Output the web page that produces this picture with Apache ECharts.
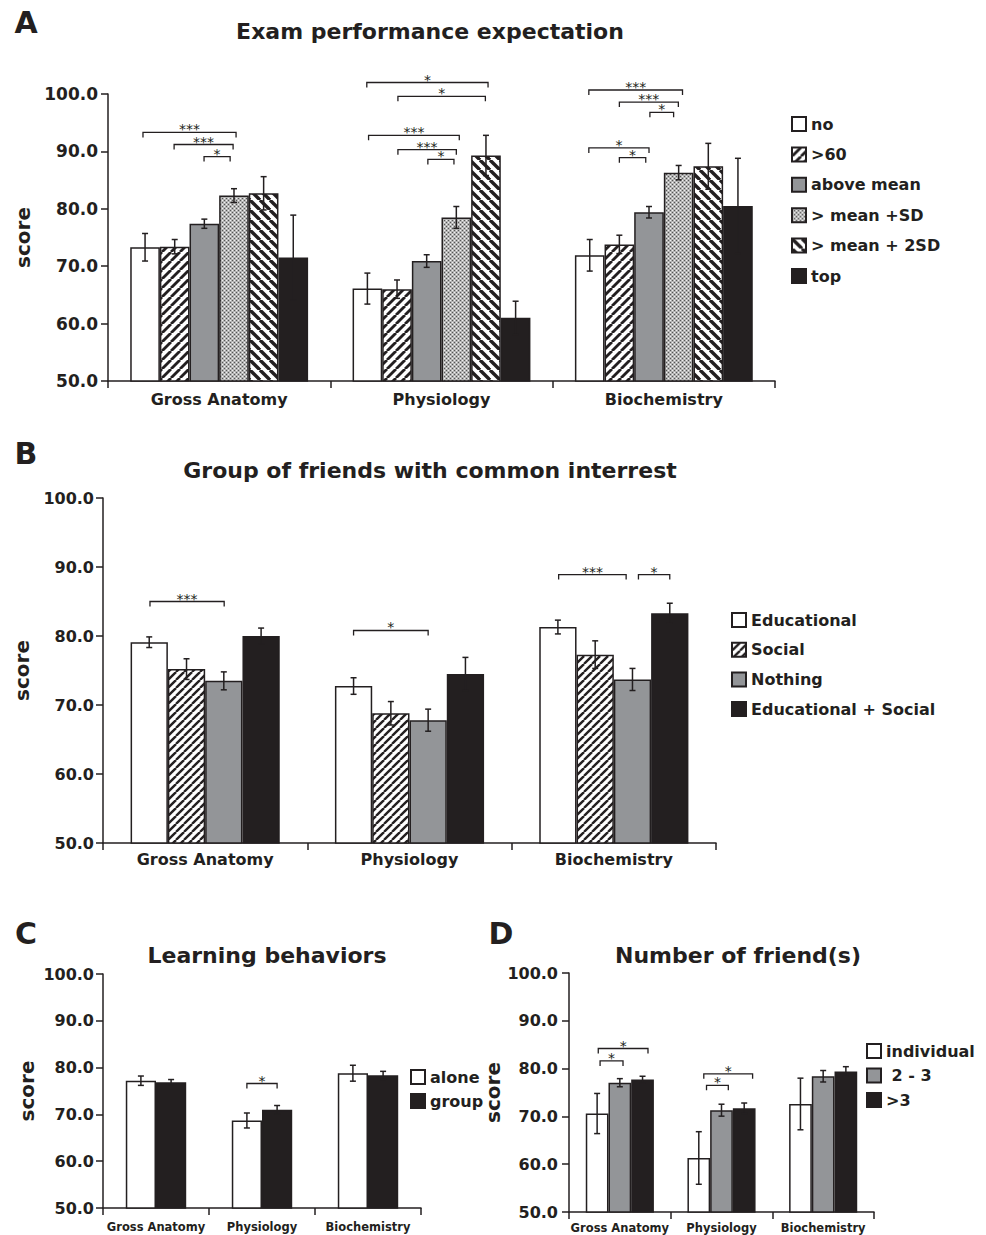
<!DOCTYPE html>
<html><head><meta charset="utf-8">
<script src="https://cdn.jsdelivr.net/npm/echarts@6/dist/echarts.min.js"></script>
<style>html,body{margin:0;padding:0;background:#fff}#c{width:986px;height:1235px}</style>
</head><body><div id="c"></div>
<script>
// ---------------- DATA ----------------
const categories = ['Gross Anatomy', 'Physiology', 'Biochemistry'];
const yMin = 50, yMax = 100, yStep = 10;

// Panel A: Exam performance expectation
const aNames = ['no', '>60', 'above mean', '> mean +SD', '> mean + 2SD', 'top'];
const aValues = [[73.3, 66.1, 71.9], [73.4, 66.0, 73.8], [77.4, 70.9, 79.4], [82.3, 78.5, 86.3], [82.7, 89.3, 87.4], [71.5, 61.0, 80.5]];
const aErrors = [[2.4, 2.7, 2.75], [1.25, 1.6, 1.6], [0.8, 1.1, 1.0], [1.2, 1.9, 1.25], [2.9, 3.5, 4.0], [7.4, 2.9, 8.3]];
// [category, from bar, to bar, height, label]
const aBrackets = [
  [0, -0.07, 3.07, 93.3, '***'], [0, 0.98, 2.97, 91.2, '***'], [0, 1.99, 2.87, 89.1, '*'],
  [1, -0.02, 4.07, 102.0, '*'], [1, 1.03, 3.98, 99.6, '*'], [1, 0.04, 3.1, 92.8, '***'], [1, 1.03, 3.0, 90.3, '***'], [1, 2.04, 2.92, 88.6, '*'],
  [2, -0.03, 3.13, 100.7, '***'], [2, 1.0, 2.99, 98.6, '***'], [2, 2.03, 2.83, 96.8, '*'], [2, -0.03, 2.0, 90.6, '*'], [2, 1.0, 1.89, 88.9, '*']
];

// Panel B: Group of friends with common interrest
const bNames = ['Educational', 'Social', 'Nothing', 'Educational + Social'];
const bValues = [[79.1, 72.75, 81.3], [75.2, 68.8, 77.3], [73.5, 67.8, 73.7], [80.0, 74.5, 83.3]];
const bErrors = [[0.77, 1.2, 1.0], [1.5, 1.7, 2.0], [1.3, 1.6, 1.6], [1.15, 2.4, 1.45]];
const bBrackets = [[0, 0.02, 2.01, 85.0, '***'], [1, 0.0, 2.0, 80.8, '*'], [2, 0.02, 1.83, 88.9, '***'], [2, 2.16, 3.0, 88.9, '*']];

// Panel C: Learning behaviors
const cNames = ['alone', 'group'];
const cValues = [[77.2, 68.7, 78.8], [76.85, 71.0, 78.35]];
const cErrors = [[1.0, 1.6, 1.7], [0.6, 0.9, 0.85]];
const cBrackets = [[1, 0, 1, 76.6, '*']];

// Panel D: Number of friend(s)
const dNames = ['individual', ' 2 - 3', '>3'];
const dValues = [[70.6, 61.3, 72.6], [77.05, 71.3, 78.4], [77.7, 71.7, 79.4]];
const dErrors = [[4.2, 5.5, 5.4], [0.85, 1.25, 1.2], [0.7, 1.1, 1.0]];
const dBrackets = [[0, 0.05, 2.24, 84.2, '*'], [0, 0.13, 1.14, 81.6, '*'], [1, 0.22, 2.37, 78.9, '*'], [1, 0.34, 1.3, 76.5, '*']];

// ---------------- STYLE ----------------
const INK = '#231f20', GRAY = '#939598', FONT = 'DejaVu Sans';

function stripeTile(p, w, dir) {
  const c = document.createElement('canvas'); c.width = p; c.height = p;
  const g = c.getContext('2d'); g.fillStyle = '#fff'; g.fillRect(0, 0, p, p);
  g.strokeStyle = INK; g.lineWidth = w;
  for (let k = -1; k <= 1; k++) {
    g.beginPath();
    if (dir > 0) { g.moveTo(k * p, p); g.lineTo(k * p + p, 0); }
    else { g.moveTo(k * p, 0); g.lineTo(k * p + p, p); }
    g.stroke();
  }
  return { image: c, repeat: 'repeat', imageWidth: p, imageHeight: p };
}
function dotTile() {
  const c = document.createElement('canvas'); c.width = 4; c.height = 4;
  const g = c.getContext('2d'); g.fillStyle = '#b4b4b4'; g.fillRect(0, 0, 4, 4);
  g.fillStyle = '#555555'; g.fillRect(0, 0, 1, 1); g.fillRect(2, 2, 1, 1);
  g.fillStyle = '#f2f2f2'; g.fillRect(2, 0, 1, 1); g.fillRect(0, 2, 1, 1);
  return { image: c, repeat: 'repeat', imageWidth: 4, imageHeight: 4 };
}
const fwdA = stripeTile(9, 2.8, 1), backA = stripeTile(10, 3.4, -1), fwdB = stripeTile(8, 2.4, 1), dots = dotTile();

const panels = [
  { names: aNames, values: aValues, errors: aErrors, brackets: aBrackets, fills: ['#fff', fwdA, GRAY, dots, backA, INK],
    grid: { left: 108, top: 94, width: 667, height: 287 }, gap: 0.2, labelSize: 16, labelMargin: 10, ySize: 17, yMargin: 10, nameGap: 70,
    legend: { left: 791, top: 116, itemGap: 14.4 } },
  { names: bNames, values: bValues, errors: bErrors, brackets: bBrackets, fills: ['#fff', fwdB, GRAY, INK],
    grid: { left: 103, top: 498, width: 613, height: 345 }, gap: 0.27, labelSize: 16, labelMargin: 8, ySize: 16, yMargin: 9, nameGap: 66,
    legend: { left: 731, top: 612, itemGap: 13.7 } },
  { names: cNames, values: cValues, errors: cErrors, brackets: cBrackets, fills: ['#fff', INK],
    grid: { left: 103, top: 974, width: 318, height: 234 }, gap: 0.43, labelSize: 11.5, labelMargin: 13, ySize: 16, yMargin: 9, nameGap: 66,
    legend: { left: 410, top: 1069, itemGap: 8 } },
  { names: dNames, values: dValues, errors: dErrors, brackets: dBrackets, fills: ['#fff', GRAY, INK],
    grid: { left: 569, top: 973, width: 305, height: 239 }, gap: 0.33, labelSize: 11.5, labelMargin: 10, ySize: 16, yMargin: 11, nameGap: 57,
    legend: { left: 866, top: 1043, itemGap: 8.5 } }
];

function barX(api, cat, idx, n, gap, y) {
  const p = api.coord([cat, y]);
  const band = api.size([1, 0])[0];
  const inner = band * (1 - gap);
  return [p[0] - inner / 2 + (idx + 0.5) * inner / n, p[1]];
}

const option = {
  animation: false,
  backgroundColor: '#fff',
  grid: [], xAxis: [], yAxis: [], series: [], legend: [],
  graphic: [
    { type: 'text', x: 26, y: 22, style: { text: 'A', font: 'bold 30px ' + FONT, fill: INK, align: 'center', verticalAlign: 'middle' } },
    { type: 'text', x: 430, y: 31, style: { text: 'Exam performance expectation', font: 'bold 22px ' + FONT, fill: INK, align: 'center', verticalAlign: 'middle' } },
    { type: 'text', x: 26, y: 453, style: { text: 'B', font: 'bold 30px ' + FONT, fill: INK, align: 'center', verticalAlign: 'middle' } },
    { type: 'text', x: 430, y: 470, style: { text: 'Group of friends with common interrest', font: 'bold 22px ' + FONT, fill: INK, align: 'center', verticalAlign: 'middle' } },
    { type: 'text', x: 26, y: 933, style: { text: 'C', font: 'bold 30px ' + FONT, fill: INK, align: 'center', verticalAlign: 'middle' } },
    { type: 'text', x: 267, y: 955, style: { text: 'Learning behaviors', font: 'bold 22px ' + FONT, fill: INK, align: 'center', verticalAlign: 'middle' } },
    { type: 'text', x: 501, y: 933, style: { text: 'D', font: 'bold 30px ' + FONT, fill: INK, align: 'center', verticalAlign: 'middle' } },
    { type: 'text', x: 738, y: 955, style: { text: 'Number of friend(s)', font: 'bold 22px ' + FONT, fill: INK, align: 'center', verticalAlign: 'middle' } }
  ]
};

panels.forEach((P, i) => {
  const n = P.names.length;
  option.grid.push(Object.assign({ containLabel: false }, P.grid));
  option.xAxis.push({
    gridIndex: i, type: 'category', data: categories,
    axisLine: { lineStyle: { color: INK, width: 1.5 } },
    axisTick: { show: true, length: 7, lineStyle: { color: INK, width: 1.5 } },
    axisLabel: { color: INK, fontFamily: FONT, fontWeight: 'bold', fontSize: P.labelSize, margin: P.labelMargin, interval: 0 }
  });
  option.yAxis.push({
    gridIndex: i, type: 'value', min: yMin, max: yMax, interval: yStep,
    name: 'score', nameLocation: 'middle', nameGap: P.nameGap,
    nameTextStyle: { color: INK, fontFamily: FONT, fontWeight: 'bold', fontSize: 20 },
    axisLine: { show: true, lineStyle: { color: INK, width: 1.5 } },
    axisTick: { show: true, length: 7, lineStyle: { color: INK, width: 1.5 } },
    splitLine: { show: false },
    axisLabel: { color: INK, fontFamily: FONT, fontWeight: 'bold', fontSize: P.ySize, margin: P.yMargin, formatter: v => v.toFixed(1) }
  });
  P.names.forEach((nm, s) => {
    option.series.push({
      type: 'bar', name: nm, xAxisIndex: i, yAxisIndex: i, data: P.values[s],
      barGap: '0%', barCategoryGap: (P.gap * 100) + '%', silent: true,
      itemStyle: { color: P.fills[s], borderColor: INK, borderWidth: 1.5 },
      emphasis: { disabled: true }
    });
  });
  const errData = [];
  P.values.forEach((row, s) => row.forEach((v, c) => errData.push([c, s, v, P.errors[s][c]])));
  option.series.push({
    type: 'custom', xAxisIndex: i, yAxisIndex: i, data: errData, encode: { x: 0, y: 2 }, z: 5, silent: true,
    renderItem: (params, api) => {
      const c = api.value(0), s = api.value(1), v = api.value(2), e = api.value(3);
      const top = barX(api, c, s, n, P.gap, v + e), bot = barX(api, c, s, n, P.gap, v - e);
      const x = top[0], cap = 3;
      const st = { stroke: INK, lineWidth: 1.5, fill: null };
      return { type: 'group', children: [
        { type: 'line', shape: { x1: x, y1: top[1], x2: x, y2: bot[1] }, style: st },
        { type: 'line', shape: { x1: x - cap, y1: top[1], x2: x + cap, y2: top[1] }, style: st },
        { type: 'line', shape: { x1: x - cap, y1: bot[1], x2: x + cap, y2: bot[1] }, style: st }
      ] };
    }
  });
  option.series.push({
    type: 'custom', xAxisIndex: i, yAxisIndex: i, data: P.brackets.map(b => b.slice(0, 4)), encode: { x: 0, y: 3 }, z: 6, clip: false, silent: true,
    renderItem: (params, api) => {
      const c = api.value(0), f = api.value(1), t = api.value(2), y = api.value(3);
      const p1 = barX(api, c, f, n, P.gap, y), p2 = barX(api, c, t, n, P.gap, y);
      const yy = p1[1], leg = 5;
      const label = P.brackets[params.dataIndex][4];
      return { type: 'group', children: [
        { type: 'polyline', shape: { points: [[p1[0], yy + leg], [p1[0], yy], [p2[0], yy], [p2[0], yy + leg]] }, style: { stroke: INK, lineWidth: 1.3, fill: null } },
        { type: 'text', style: { text: label, x: (p1[0] + p2[0]) / 2, y: yy + 4, align: 'center', verticalAlign: 'bottom', font: '14px ' + FONT, fill: INK } }
      ] };
    }
  });
  option.legend.push({
    data: P.names, orient: 'vertical', left: P.legend.left, top: P.legend.top, itemGap: P.legend.itemGap, padding: 0,
    itemWidth: 14, itemHeight: 14, icon: 'rect', selectedMode: false,
    textStyle: { color: INK, fontFamily: FONT, fontWeight: 'bold', fontSize: 16 }
  });
});

const chart = echarts.init(document.getElementById('c'), null, { renderer: 'svg' });
chart.setOption(option);
</script></body></html>
